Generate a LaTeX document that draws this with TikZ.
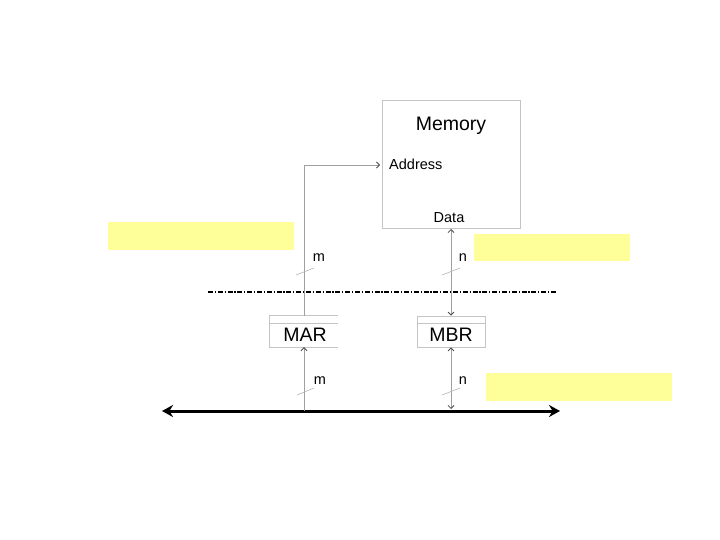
\documentclass[tikz,border=0pt]{standalone}
\usepackage{fontspec}
\setmainfont{Liberation Sans}
\usetikzlibrary{arrows.meta}
\definecolor{hl}{HTML}{FFFF99}
\definecolor{wirec}{HTML}{A0A0A0}
\definecolor{boxc}{HTML}{C4C4C4}
\begin{document}
\begin{tikzpicture}[x=1pt,y=-1pt,
  wire/.style={draw=wirec, line width=0.8pt},
  tipend/.style={-{Straight Barb[length=3pt,width=6pt,color=black!70]}},
  tipboth/.style={{Straight Barb[length=3pt,width=6pt,color=black!70]}-{Straight Barb[length=3pt,width=6pt,color=black!70]}},
  hlbox/.style={fill=hl, draw=none, inner sep=0pt},
  regbox/.style={draw=none, inner sep=0pt, minimum width=68pt, minimum height=31pt},
  boxline/.style={draw=boxc, line width=0.8pt},
  lbl/.style={inner sep=0pt, font=\fontsize{14.5}{16}\selectfont},
  big/.style={inner sep=0pt, font=\fontsize{19.5}{22}\selectfont},
  bus/.style={line width=3pt, {Stealth[length=11pt,width=12pt]}-{Stealth[length=11pt,width=12pt]}}
]
\useasboundingbox (0,0) rectangle (720,540);

% yellow highlight boxes
\node[hlbox, minimum width=186pt, minimum height=28pt] (y1) at (201,236) {};
\node[hlbox, minimum width=156pt, minimum height=27pt] (y2) at (552,247.5) {};
\node[hlbox, minimum width=186pt, minimum height=28pt] (y3) at (579,387) {};

% memory
\node[draw=boxc, line width=0.8pt, inner sep=0pt, minimum width=138pt, minimum height=128pt] (mem) at (451,164) {};
\node[big] (memt) at (451,126) {Memory};
\node[lbl, anchor=west] (addrt) at (389,164) {Address};
\node[lbl] (datat) at (449,218) {Data};
\coordinate (addr) at (380,165);
\coordinate (data) at (451,229);

% registers
\node[regbox] (mar) at (304,331.5) {};
\draw[boxline] (mar.north east) -- (mar.north west) -- (mar.south west) -- (mar.south east);
\draw[boxline] ([yshift=-7.5pt]mar.north west) -- ([yshift=-7.5pt]mar.north east);
\node[big] (mart) at (305,335) {MAR};

\node[regbox, draw=boxc, line width=0.8pt] (mbr) at (451,331.5) {};
\draw[boxline] ([yshift=-7.5pt]mbr.north west) -- ([yshift=-7.5pt]mbr.north east);
\node[big] (mbrt) at (451,335) {MBR};

% system bus
\coordinate (busl) at (162,411);
\coordinate (busr) at (560,411);
\draw[bus] (busl) -- (busr);
\coordinate (marbus) at (304,411);
\coordinate (mbrbus) at (451,409);

% connections
\draw[wire, tipend] (mar.north) |- (addr);
\draw[wire, tipboth] (data) -- (mbr.north);
\draw[wire, tipend] (marbus) -- (mar.south);
\draw[wire, tipboth] (mbr.south) -- (mbrbus);

% dash-dot boundary
\coordinate (dl) at (208,292);
\coordinate (dr) at (556,292);
\draw[line width=1.3pt, dash pattern=on 5pt off 1.8pt on 1.2pt off 1.8pt] (dl) -- (dr);

% width marks
\coordinate (s1a) at (296,275); \coordinate (s1b) at (314,268);
\coordinate (s2a) at (442,275); \coordinate (s2b) at (460,268);
\coordinate (s3a) at (297,395); \coordinate (s3b) at (314,388);
\coordinate (s4a) at (442,395); \coordinate (s4b) at (460,388);
\draw[wire, line width=0.6pt, draw=wirec!80] (s1a) -- (s1b);
\draw[wire, line width=0.6pt, draw=wirec!80] (s2a) -- (s2b);
\draw[wire, line width=0.6pt, draw=wirec!80] (s3a) -- (s3b);
\draw[wire, line width=0.6pt, draw=wirec!80] (s4a) -- (s4b);
\node[lbl] (m1) at (319,258) {m};
\node[lbl] (n1) at (463,258) {n};
\node[lbl] (m2) at (320,381) {m};
\node[lbl] (n2) at (463,381) {n};
\end{tikzpicture}
\end{document}
